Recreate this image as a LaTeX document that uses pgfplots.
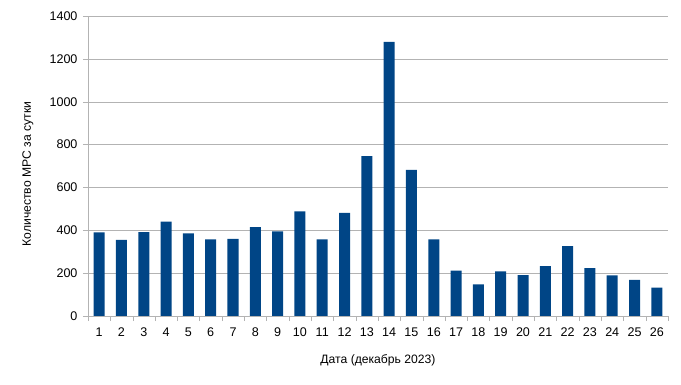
\documentclass[border=0pt]{standalone}
\usepackage{fontspec}
\setmainfont{Liberation Sans}
\usepackage{pgfplots}
\pgfplotsset{compat=1.18}
\definecolor{barblue}{HTML}{004586}
\definecolor{gridgray}{HTML}{B3B3B3}
\newcommand{\tk}{\fontsize{12.6}{14}\selectfont}
\begin{document}
\begin{tikzpicture}
\path (-88bp,-69bp) rectangle (593bp,316bp);
\begin{axis}[
  at={(0,0)}, anchor=south west,
  scale only axis, width=580bp, height=300bp,
  xmin=0.5, xmax=26.5, ymin=0, ymax=1400,
  xtick={1,...,26},
  xticklabels={1,2,3,4,5,6,7,8,9,10,11,12,13,14,15,16,17,18,19,20,21,22,23,24,25,26},
  minor xtick={0.5,1.5,...,26.5},
  ytick={0,200,...,1400},
  yticklabels={0,200,400,600,800,1000,1200,1400},
  tick align=outside,
  major x tick style={draw=none},
  minor x tick style={gridgray},
  y tick style={gridgray},
  major tick length=5bp, minor tick length=5bp,
  ymajorgrids, grid style={gridgray},
  axis line style={gridgray},
  axis x line*=bottom, axis y line*=left,
  xticklabel style={font=\tk, text=black, yshift=-3bp},
  yticklabel style={font=\tk, text=black, xshift=-2bp},
  label style={font=\fontsize{12.2}{14}\selectfont, text=black},
  xlabel={Дата (декабрь 2023)},
  ylabel={Количество МРС за сутки},
  ylabel style={at={(axis description cs:0,0.5)}, anchor=center, yshift=60bp, xshift=-8bp},
  xlabel style={at={(axis description cs:0.5,0)}, anchor=center, yshift=-44bp},
]
\addplot[ybar, bar width=11bp, fill=barblue, draw=none] coordinates {
(1,390) (2,355) (3,391) (4,440) (5,386) (6,357) (7,360) (8,415) (9,395) (10,488)
(11,357) (12,481) (13,746) (14,1279) (15,682) (16,357) (17,212) (18,147) (19,208) (20,191)
(21,233) (22,326) (23,223) (24,189) (25,169) (26,132)
};
\end{axis}
\end{tikzpicture}
\end{document}
